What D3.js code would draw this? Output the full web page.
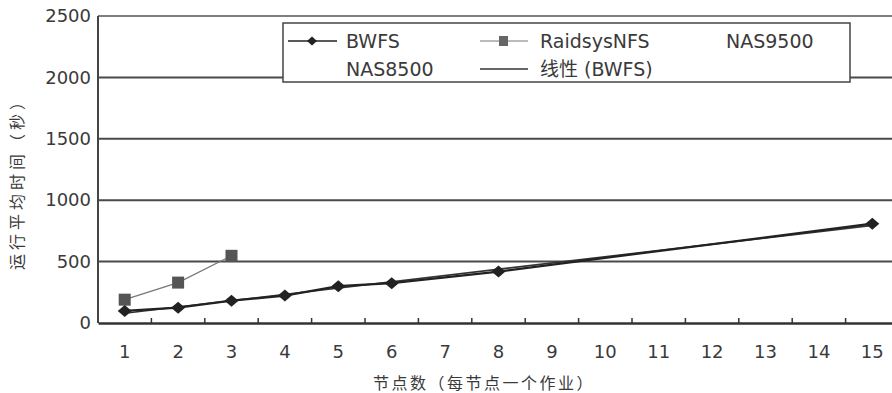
<!DOCTYPE html>
<html><head><meta charset="utf-8">
<script src="https://cdn.jsdelivr.net/npm/d3@7"></script>
<style>
body{margin:0;background:#fff;}
svg{display:block;}
text{font-family:"DejaVu Sans","Noto Sans CJK SC",sans-serif;fill:#3a3a3a;}
</style></head><body>
<svg id="c" width="892" height="393"></svg>
<script>
const categories = [1,2,3,4,5,6,7,8,9,10,11,12,13,14,15];
const yTicks = [0,500,1000,1500,2000,2500];
const bwfsX = [1,2,3,4,5,6,8,15];
const bwfsY = [98,125,182,223,300,324,419,809];
const raidX = [1,2,3];
const raidY = [190,329,547];
const trendX = [1,15];
const trendY = [80,795];
const legendNames = ["BWFS","RaidsysNFS","NAS9500","NAS8500","线性 (BWFS)"];
const xTitle = "节点数（每节点一个作业）";
const yTitle = "运行平均时间（秒）";

const svg = d3.select("#c");
const L = 98, T = 16, B = 323, R = 98 + 15*53.4;
const x = d3.scaleBand().domain(categories).range([L, R]);
const xc = v => x(v) + x.bandwidth()/2;
const y = d3.scaleLinear().domain([0,2500]).range([B, T]);
const tickFont = "DejaVu Sans, sans-serif";

// gridlines
svg.append("g").selectAll("line").data(yTicks.filter(d=>d>0 && d<2500)).join("line")
  .attr("x1", L).attr("x2", 892).attr("y1", d=>y(d)).attr("y2", d=>y(d))
  .attr("stroke","#4a4a4a").attr("stroke-width",2);
svg.append("line").attr("x1",L).attr("x2",892).attr("y1",y(2500)).attr("y2",y(2500)).attr("stroke","#555").attr("stroke-width",1.5);
svg.append("line").attr("x1",L).attr("x2",L).attr("y1",T).attr("y2",B).attr("stroke","#444").attr("stroke-width",2);

// y axis
const ya = svg.append("g").attr("transform",`translate(${L},0)`)
  .call(d3.axisLeft(y).tickValues(yTicks).tickSize(0).tickPadding(7).tickFormat(d3.format("d")));
ya.select(".domain").remove();
ya.selectAll("text").attr("font-size",18).attr("fill","#444").style("font-family",tickFont);

// x axis
const xa = svg.append("g").attr("transform",`translate(0,${B})`)
  .call(d3.axisBottom(x).tickSize(0).tickPadding(22));
xa.select(".domain").attr("stroke","#333").attr("stroke-width",2.5);
xa.selectAll("text").attr("font-size",18).attr("fill","#444").style("font-family",tickFont);
svg.append("g").selectAll("line").data(categories.slice(1)).join("line")
  .attr("x1",d=>x(d)).attr("x2",d=>x(d)).attr("y1",B).attr("y2",B-5)
  .attr("stroke","#333").attr("stroke-width",1.5);

// titles
svg.append("text").attr("x",484).attr("y",389).attr("text-anchor","middle")
  .attr("font-size",16).attr("letter-spacing",2.5).style("font-family","Noto Sans CJK SC, sans-serif").attr("fill","#444").text(xTitle);
svg.append("text").attr("transform","translate(23,180) rotate(-90)").attr("text-anchor","middle")
  .attr("font-size",16).attr("letter-spacing",4).style("font-family","Noto Sans CJK SC, sans-serif").attr("fill","#444").text(yTitle);

const line = d3.line().x(d=>xc(d[0])).y(d=>y(d[1]));
const diamond = (w,h) => `M0,${-h/2}L${w/2},0L0,${h/2}L${-w/2},0Z`;
// trend
svg.append("path").attr("d", line(d3.zip(trendX,trendY))).attr("fill","none").attr("stroke","#333").attr("stroke-width",1.6);
// raidsys
svg.append("path").attr("d", line(d3.zip(raidX,raidY))).attr("fill","none").attr("stroke","#777").attr("stroke-width",1.2);
svg.append("g").selectAll("rect").data(d3.zip(raidX,raidY)).join("rect")
  .attr("x",d=>xc(d[0])-6).attr("y",d=>y(d[1])-6).attr("width",12).attr("height",12).attr("fill","#555");
// bwfs
svg.append("path").attr("d", line(d3.zip(bwfsX,bwfsY))).attr("fill","none").attr("stroke","#222").attr("stroke-width",2.2);
svg.append("g").selectAll("path").data(d3.zip(bwfsX,bwfsY)).join("path")
  .attr("d",diamond(14,12)).attr("transform",d=>`translate(${xc(d[0])},${y(d[1])})`).attr("fill","#222");

// legend
const lg = svg.append("g");
lg.append("rect").attr("x",283).attr("y",23).attr("width",567).attr("height",59).attr("fill","#fff").attr("stroke","#444").attr("stroke-width",1.5);
const r1 = 41, r2 = 69;
lg.append("line").attr("x1",288).attr("x2",337).attr("y1",r1).attr("y2",r1).attr("stroke","#222").attr("stroke-width",1.6);
lg.append("path").attr("d",diamond(10,9)).attr("transform",`translate(312,${r1})`).attr("fill","#222");
lg.append("line").attr("x1",480).attr("x2",528).attr("y1",r1).attr("y2",r1).attr("stroke","#777").attr("stroke-width",1);
lg.append("rect").attr("x",499).attr("y",r1-5).attr("width",9).attr("height",10).attr("fill","#666");
lg.append("line").attr("x1",480).attr("x2",528).attr("y1",r2).attr("y2",r2).attr("stroke","#333").attr("stroke-width",1.5);
const items = [[legendNames[0],346,r1],[legendNames[1],540,r1],[legendNames[2],726,r1],[legendNames[3],346,r2],[legendNames[4],540,r2]];
lg.selectAll("text").data(items).join("text").attr("x",d=>d[1]).attr("y",d=>d[2]).attr("dy","0.36em")
  .attr("font-size",19).attr("fill","#3a3a3a").style("font-family","DejaVu Sans, Noto Sans CJK SC, sans-serif").text(d=>d[0]);
</script></body></html>
